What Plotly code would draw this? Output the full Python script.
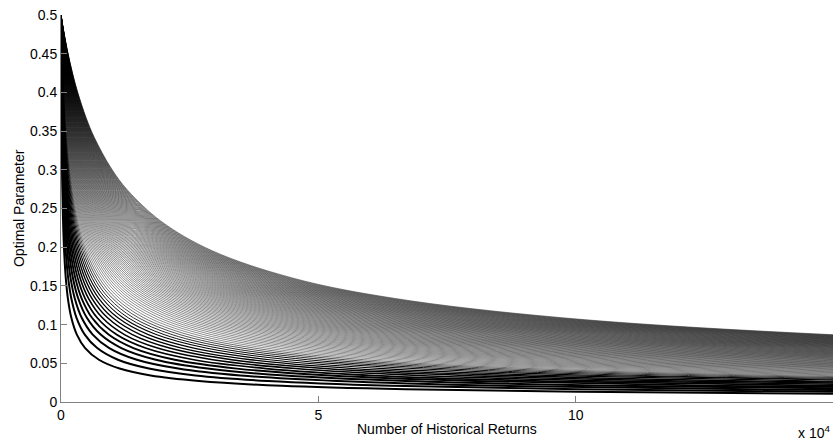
import plotly.graph_objects as go

# Common decay profile of the optimal parameter, as a function of the
# sample size measured in units of each curve's own horizontal scale.
profile_u = [0, 0.05, 0.1, 0.2, 0.35, 0.5, 0.75, 1, 1.5, 2, 3, 4.5, 7, 10, 15,
             23, 35, 55, 85, 130, 200, 320, 500, 750, 1150]
profile_y = [0.5, 0.4868, 0.4745, 0.4523, 0.4239, 0.4001, 0.3675, 0.3415, 0.3021,
             0.2732, 0.2333, 0.1958, 0.1593, 0.1337, 0.1088, 0.0871, 0.0697, 0.0546,
             0.0432, 0.0342, 0.0271, 0.0209, 0.0164, 0.0131, 0.0104]

# Horizontal scale (number of returns) of each curve in the family, bottom to top.
curve_scales = [134, 201, 268, 335, 402, 469, 536, 603, 670, 737,
                804, 871, 938, 1005, 1072, 1139, 1206, 1273, 1340, 1407,
                1474, 1541, 1608, 1675, 1742, 1809, 1876, 1943, 2010, 2077,
                2144, 2211, 2278, 2345, 2412, 2479, 2546, 2613, 2680, 2747,
                2814, 2881, 2948, 3015, 3082, 3149, 3216, 3283, 3350, 3417,
                3484, 3551, 3618, 3685, 3752, 3819, 3886, 3953, 4020, 4087,
                4154, 4221, 4288, 4355, 4422, 4489, 4556, 4623, 4690, 4757,
                4824, 4891, 4958, 5025, 5092, 5159, 5226, 5293, 5360, 5427,
                5494, 5561, 5628, 5695, 5762, 5829, 5896, 5963, 6030, 6097,
                6164, 6231, 6298, 6365, 6432, 6499]

x_tick_vals = [0, 50000, 100000, 150000]
x_tick_text = ["0", "5", "10", "15"]
y_tick_vals = [0, 0.05, 0.1, 0.15, 0.2, 0.25, 0.3, 0.35, 0.4, 0.45, 0.5]
y_tick_text = ["0", "0.05", "0.1", "0.15", "0.2", "0.25", "0.3", "0.35", "0.4", "0.45", "0.5"]


def line_width(i):
    # the few widely spaced low curves are heavier, the dense upper ones hairlines
    if i < 4:
        return 2.0
    return max(0.45, 2.0 - 0.13 * (i - 3))


fig = go.Figure()
for i, c in enumerate(curve_scales):
    fig.add_trace(go.Scatter(x=[u * c for u in profile_u], y=profile_y, mode="lines",
                             line=dict(color="black", width=line_width(i), shape="spline"),
                             hoverinfo="skip", showlegend=False))

axis_grey = "#808080"
fig.update_layout(width=838, height=444, margin=dict(l=61, r=5, t=15, b=42),
                  paper_bgcolor="white", plot_bgcolor="white",
                  font=dict(family="Liberation Sans, Arial, sans-serif", size=14, color="black"))
fig.update_xaxes(range=[0, 150000], tickvals=x_tick_vals, ticktext=x_tick_text,
                 ticks="inside", ticklen=6, tickcolor=axis_grey, showline=True, linecolor=axis_grey,
                 showgrid=False, zeroline=False, tickfont=dict(size=14))
fig.update_yaxes(range=[0, 0.5], tickvals=y_tick_vals, ticktext=y_tick_text,
                 ticks="inside", ticklen=6, tickcolor=axis_grey, showline=True, linecolor=axis_grey,
                 showgrid=False, zeroline=False, tickfont=dict(size=14))
fig.add_annotation(text="Optimal Parameter", textangle=-90, xref="paper", yref="paper",
                   x=-0.055, y=0.5, xanchor="center", yanchor="middle", showarrow=False)
fig.add_annotation(text="Number of Historical Returns", xref="paper", yref="paper",
                   x=0.5, y=-0.07, xanchor="center", yanchor="middle", showarrow=False)
fig.add_annotation(text="x 10<sup>4</sup>", xref="paper", yref="paper",
                   x=0.9987, y=-0.078, xanchor="right", yanchor="middle", showarrow=False)
fig.write_html("out.html", config={"displayModeBar": False})
